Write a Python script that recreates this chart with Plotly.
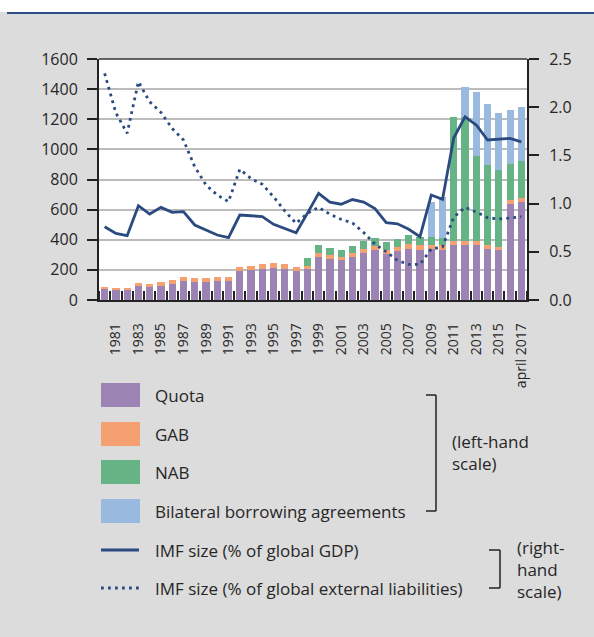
import plotly.graph_objects as go

years = list(range(1980, 2018))
quota = [73, 66, 66, 93, 86, 93, 106, 126, 120, 120, 126, 126, 193, 199, 206, 212, 206, 193, 206, 285,
         271, 265, 285, 311, 331, 305, 325, 341, 334, 339, 332, 365, 365, 365, 339, 332, 637, 651]
gab = [13, 14, 14, 20, 20, 27, 27, 27, 26, 26, 27, 27, 26, 27, 33, 34, 33, 26, 20, 27,
       28, 21, 27, 28, 28, 27, 27, 31, 31, 26, 33, 29, 29, 29, 26, 20, 27, 26]
nab = [0, 0, 0, 0, 0, 0, 0, 0, 0, 0, 0, 0, 0, 0, 0, 0, 0, 0, 55, 53,
       46, 46, 47, 53, 53, 53, 53, 60, 51, 51, 47, 823, 823, 562, 531, 511, 239, 246]
bilateral = [0, 0, 0, 0, 0, 0, 0, 0, 0, 0, 0, 0, 0, 0, 0, 0, 0, 0, 0, 0,
             0, 0, 0, 0, 0, 0, 0, 0, 0, 237, 272, 0, 200, 427, 405, 379, 359, 359]
gdp_pct = [0.76, 0.69, 0.667, 0.978, 0.892, 0.961, 0.909, 0.916, 0.778, 0.726,
           0.674, 0.646, 0.881, 0.874, 0.864, 0.785, 0.743, 0.698, 0.899, 1.106,
           1.015, 0.994, 1.042, 1.015, 0.949, 0.803, 0.79, 0.734, 0.657, 1.089,
           1.044, 1.683, 1.90, 1.815, 1.66, 1.67, 1.677, 1.64]
ext_pct = [2.35, 1.94, 1.73, 2.264, 2.056, 1.946, 1.78, 1.66, 1.382, 1.193,
           1.089, 1.02, 1.355, 1.26, 1.20, 1.07, 0.923, 0.795, 0.899, 0.961,
           0.89, 0.837, 0.80, 0.70, 0.58, 0.50, 0.41, 0.37, 0.37, 0.53,
           0.55, 0.86, 0.961, 0.912, 0.854, 0.84, 0.85, 0.864]
tick_years = list(range(1981, 2016, 2)) + [2017]
tick_text = [str(y) for y in range(1981, 2016, 2)] + ["april 2017"]
left_ticks = [0, 200, 400, 600, 800, 1000, 1200, 1400, 1600]
left_text = ["0", "200", "400", "600", "800", "1000", "1200", "1400", "1600"]

C_QUOTA = "#9b83b4"
C_GAB = "#f5a071"
C_NAB = "#66b386"
C_BIL = "#9ab9de"
C_LINE = "#2b4b80"
BG = "#dcdcdc"
FONT = "Open Sans"
TXT = "#262626"

W, H = 594, 637
L, R, T, B = 99, 527, 59, 300


def px(x):
    return (x - L) / (R - L)


def py(y):
    return (B - y) / (B - T)


fig = go.Figure()
for name, vals, col in [("Quota", quota, C_QUOTA), ("GAB", gab, C_GAB),
                        ("NAB", nab, C_NAB), ("Bilateral borrowing agreements", bilateral, C_BIL)]:
    fig.add_trace(go.Bar(x=years, y=vals, name=name, marker=dict(color=col, line=dict(width=0)),
                         showlegend=False))

fig.add_trace(go.Scatter(x=years, y=gdp_pct, yaxis="y2", mode="lines",
                         line=dict(color=C_LINE, width=2.8), showlegend=False))
fig.add_trace(go.Scatter(x=years, y=ext_pct, yaxis="y2", mode="lines",
                         line=dict(color=C_LINE, width=2.8, dash="2.8px,4.2px"), showlegend=False))

LEG = 17
shapes = []
# top white band and navy rule
shapes.append(dict(type="rect", xref="paper", yref="paper", x0=px(-5), x1=px(W + 5), y0=py(0 - 5), y1=py(12),
                   fillcolor="white", line=dict(width=0), layer="below"))
shapes.append(dict(type="line", xref="paper", yref="paper", x0=px(7), x1=px(W + 5), y0=py(13), y1=py(13),
                   line=dict(color="#2e4f85", width=2)))
# top frame line
shapes.append(dict(type="line", xref="paper", yref="paper", x0=0, x1=1, y0=1, y1=1,
                   line=dict(color="#333333", width=1.5)))

# legend swatches
sw_x0, sw_x1 = 101, 140
rows = [("Quota", C_QUOTA, 395), ("GAB", C_GAB, 434), ("NAB", C_NAB, 472),
        ("Bilateral borrowing agreements", C_BIL, 511)]
annotations = []
for label, col, yc in rows:
    shapes.append(dict(type="rect", xref="paper", yref="paper", x0=px(sw_x0), x1=px(sw_x1),
                       y0=py(yc - 12), y1=py(yc + 12), fillcolor=col, line=dict(width=0)))
    annotations.append(dict(xref="paper", yref="paper", x=px(153), y=py(yc), text=label, showarrow=False,
                            xanchor="left", yanchor="middle", font=dict(size=LEG, color=TXT, family=FONT)))
shapes.append(dict(type="line", xref="paper", yref="paper", x0=px(101), x1=px(139), y0=py(550), y1=py(550),
                   line=dict(color=C_LINE, width=2.8)))
shapes.append(dict(type="line", xref="paper", yref="paper", x0=px(101), x1=px(139), y0=py(588), y1=py(588),
                   line=dict(color=C_LINE, width=2.8, dash="2.8px,4.2px")))
annotations.append(dict(xref="paper", yref="paper", x=px(153), y=py(550), text="IMF size (% of global GDP)",
                        showarrow=False, xanchor="left", yanchor="middle", font=dict(size=LEG, color=TXT, family=FONT)))
annotations.append(dict(xref="paper", yref="paper", x=px(153), y=py(588),
                        text="IMF size (% of global external liabilities)",
                        showarrow=False, xanchor="left", yanchor="middle", font=dict(size=LEG, color=TXT, family=FONT)))

# brackets
bc = dict(color="#222222", width=1.5)
shapes += [
    dict(type="line", xref="paper", yref="paper", x0=px(436), x1=px(436), y0=py(395), y1=py(511), line=bc),
    dict(type="line", xref="paper", yref="paper", x0=px(426), x1=px(436), y0=py(395), y1=py(395), line=bc),
    dict(type="line", xref="paper", yref="paper", x0=px(426), x1=px(436), y0=py(511), y1=py(511), line=bc),
    dict(type="line", xref="paper", yref="paper", x0=px(500), x1=px(500), y0=py(550), y1=py(588), line=bc),
    dict(type="line", xref="paper", yref="paper", x0=px(489), x1=px(500), y0=py(550), y1=py(550), line=bc),
    dict(type="line", xref="paper", yref="paper", x0=px(489), x1=px(500), y0=py(588), y1=py(588), line=bc),
]
annotations.append(dict(xref="paper", yref="paper", x=px(450), y=py(452), text="(left-hand<br>scale)",
                        showarrow=False, xanchor="left", yanchor="middle", align="left",
                        font=dict(size=LEG, color=TXT, family=FONT)))
annotations.append(dict(xref="paper", yref="paper", x=px(515), y=py(569), text="(right-<br>hand<br>scale)",
                        showarrow=False, xanchor="left", yanchor="middle", align="left",
                        font=dict(size=LEG, color=TXT, family=FONT)))

fig.update_layout(
    width=W, height=H,
    margin=dict(l=L, r=W - R, t=T, b=H - B, pad=0),
    paper_bgcolor=BG, plot_bgcolor="white",
    barmode="stack", bargap=0.36,
    showlegend=False,
    font=dict(family=FONT, color=TXT, size=15),
    xaxis=dict(range=[1979.5, 2017.5], tickmode="array", tickvals=tick_years, ticktext=tick_text,
               tickangle=-90, ticks="", showgrid=False, zeroline=False,
               showline=True, linecolor="#222222", linewidth=1.5,
               tickfont=dict(size=14, color=TXT, family=FONT), ticklabelstandoff=16,
               minor=dict(ticks="inside", ticklen=9, tickwidth=1.5, tickcolor="#222222",
                          tick0=0.5, dtick=1, showgrid=False)),
    yaxis=dict(range=[0, 1600], tickmode="array", tickvals=left_ticks, ticktext=left_text,
               ticks="outside", ticklen=10, tickwidth=1.5, tickcolor="#222222",
               showline=True, linecolor="#222222", linewidth=2,
               showgrid=True, gridcolor="#bcbcbc", gridwidth=2, zeroline=False,
               tickfont=dict(size=16, color=TXT, family=FONT), ticklabelstandoff=6),
    yaxis2=dict(range=[0, 2.5], overlaying="y", side="right", tickmode="linear", tick0=0, dtick=0.5,
                tickformat=".1f", ticks="outside", ticklen=10, tickwidth=1.5, tickcolor="#222222",
                showline=True, linecolor="#222222", linewidth=2, showgrid=False, zeroline=False,
                tickfont=dict(size=16, color=TXT, family=FONT), ticklabelstandoff=7),
    shapes=shapes, annotations=annotations,
)

fig.write_html("out.html")
